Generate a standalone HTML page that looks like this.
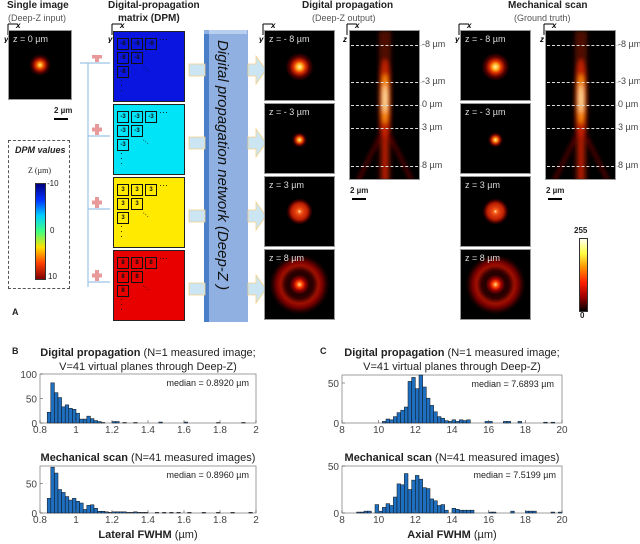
<!DOCTYPE html>
<html><head><meta charset="utf-8">
<style>
body{margin:0;background:#fff;font-family:"Liberation Sans",sans-serif;}
#root{position:relative;width:640px;height:544px;overflow:hidden;background:#fff;}
.abs{position:absolute;}
.t{position:absolute;font-size:11px;color:#222;white-space:nowrap;}
.b{font-weight:bold;}
.img{position:absolute;background:#000;border:1px solid #999;box-sizing:border-box;overflow:hidden;}
.zl{position:absolute;left:4px;top:3px;color:#ddd;font-size:9px;}
.dpm{position:absolute;border:1px solid #222;box-sizing:border-box;}
.cell{position:absolute;width:10px;height:10px;border:1.5px solid #111;font-size:6px;font-weight:bold;text-align:center;line-height:10px;color:#111;}
</style></head><body>
<div id="root">

<div class="t b" style="left:7px;top:0px;font-size:10px">Single image</div>
<div class="t" style="left:8px;top:13px;font-size:9px;color:#555">(Deep-Z input)</div>
<div class="t b" style="left:108px;top:0px;font-size:10px">Digital-propagation</div>
<div class="t b" style="left:118px;top:13px;font-size:10px">matrix (DPM)</div>
<div class="t b" style="left:302px;top:0px;font-size:10px">Digital propagation</div>
<div class="t" style="left:312px;top:13px;font-size:9px;color:#555">(Deep-Z output)</div>
<div class="t b" style="left:508px;top:0px;font-size:10px">Mechanical scan</div>
<div class="t" style="left:514px;top:13px;font-size:9px;color:#555">(Ground truth)</div>

<div id="axglyphs"></div>

<div class="img" style="left:8px;top:30px;width:64px;height:70px;background:radial-gradient(circle at 50% 50%,#fff6a0 0,#ff9a10 2px,#c82000 5px,#400 8px,#000 11px)"><span class="zl">z = 0 µm</span></div>
<div class="t b" style="left:54px;top:106px;font-size:8px">2 µm</div>
<div class="abs" style="left:54px;top:118px;width:14px;height:2px;background:#000"></div>

<div class="abs" style="left:8px;top:140px;width:62px;height:149px;border:1px dashed #555;box-sizing:border-box"></div>
<div class="t b" style="left:15px;top:145px;font-size:9px;font-style:italic">DPM values</div>
<div class="t" style="left:28px;top:166px;font-size:8px;font-family:'Liberation Serif',serif">Z (µm)</div>
<div class="abs" style="left:35px;top:183px;width:9px;height:95px;background:linear-gradient(#00007f,#0030ff,#00d0ff,#40ff80,#ffe000,#ff4000,#7f0000);border:1px solid #333"></div>
<div class="t" style="left:47px;top:179px;font-size:8px">-10</div>
<div class="t" style="left:50px;top:226px;font-size:8px">0</div>
<div class="t" style="left:48px;top:272px;font-size:8px">10</div>
<div class="t b" style="left:12px;top:307px;font-size:9px">A</div>

<svg class="abs" style="left:75px;top:55px" width="40" height="240">
<g stroke="#9ec4e8" stroke-width="1.2" fill="#9ec4e8">
<line x1="5" y1="8" x2="35" y2="8"/><line x1="13" y1="8" x2="13" y2="232"/>
<line x1="13" y1="81" x2="35" y2="81"/><line x1="13" y1="154" x2="35" y2="154"/><line x1="13" y1="227" x2="35" y2="227"/>
</g>
<g fill="#e89a9a"><rect x="20" y="-4" width="4" height="11"/><rect x="17" y="-0.5" width="10" height="4"/>
<rect x="20" y="69" width="4" height="11"/><rect x="17" y="72.5" width="10" height="4"/>
<rect x="20" y="142" width="4" height="11"/><rect x="17" y="145.5" width="10" height="4"/>
<rect x="20" y="215" width="4" height="11"/><rect x="17" y="218.5" width="10" height="4"/></g>
</svg>

<div id="dpms"></div>

<div class="abs" style="left:204px;top:30px;width:44px;height:292px;background:#8fb0e0"></div>
<div class="abs" style="left:204px;top:34px;width:5px;height:288px;background:#4a7ec8"></div>
<div class="abs" style="left:209px;top:30px;width:38px;height:4px;background:#b8cff0"></div>
<div class="t" style="left:214px;top:40px;font-size:15px;font-style:italic;writing-mode:vertical-rl;color:#111">Digital propagation network (Deep-Z )</div>
<svg class="abs" style="left:186px;top:50px" width="80" height="270">
<g fill="#cbe6f2" stroke="#f2d08a" stroke-width="0.8">
<rect x="3" y="14" width="16" height="12"/><rect x="3" y="87" width="16" height="12"/><rect x="3" y="160" width="16" height="12"/><rect x="3" y="233" width="16" height="12"/>
<path d="M62 14h8v-8l10 14-10 14v-8h-8z"/><path d="M62 87h8v-8l10 14-10 14v-8h-8z"/><path d="M62 160h8v-8l10 14-10 14v-8h-8z"/><path d="M62 233h8v-8l10 14-10 14v-8h-8z"/>
</g></svg>

<div id="psf"></div>

<div class="abs" style="left:579px;top:238px;width:7px;height:72px;background:linear-gradient(#fffff0,#ffff40,#ff9000,#ff2000,#a00000,#000);border:1px solid #333"></div>
<div class="t b" style="left:574px;top:226px;font-size:8px">255</div>
<div class="t b" style="left:580px;top:311px;font-size:8px">0</div>

<svg id="hist" class="abs" style="left:0;top:0" width="640" height="544"></svg>
</div>

<script>
// ---- histogram data ----
const latBins0 = 0.84, latStep = 0.02;
const latDigital = [22,82,62,52,33,37,30,28,20,8,8,14,9,5,3,1,0,0,3,3,0,1,0,0,1,0,0,0,0,0,0,2,0,0,0,0,0,0,2,0,0,0,0,0,0,0,0,1,0,0,0,0,0,0,1,0,0,0];
const latMech = [25,78,68,40,35,28,22,25,20,17,6,13,14,8,3,3,2,1,2,2,2,2,1,1,2,1,1,1,0,0,1,0,1,0,1,0,1,0,0,1,0,0,0,1,0,0,0,1,0,0,0,1,0,0,0,0,1,0];
const axStep = 0.2, axDigBin0 = 10.2, axMechBin0 = 8.8;
const axDigital = [2,5,4,8,13,16,20,52,57,43,60,45,31,22,14,8,6,3,2,4,2,4,3,4,0,0,0,0,2,2,0,0,0,2,2,0,0,2,0,0,0,0,0,0,1,0,1,0,0];
const axMech = [1,1,2,2,0,9,2,6,10,8,17,31,30,42,25,35,40,36,27,26,15,13,8,9,3,0,5,4,3,3,3,3,0,0,0,0,1,1,0,0,0,0,2,0,0,0,2,2,2,0,0,0,0,1,0,1];
const latTicks = [0.8,1,1.2,1.4,1.6,1.8,2];
const axTicks = [8,10,12,14,16,18,20];

const NS="http://www.w3.org/2000/svg";
const svg=document.getElementById('hist');
function el(tag,attrs,parent){const e=document.createElementNS(NS,tag);for(const k in attrs)e.setAttribute(k,attrs[k]);(parent||svg).appendChild(e);return e;}
function txt(x,y,s,opt,parent){const t=el('text',Object.assign({x:x,y:y,'font-size':9,'font-family':'Liberation Sans, sans-serif',fill:'#333'},opt||{}),parent);t.textContent=s;return t;}

function hist(name,box,xmin,xmax,ymax,yticks,xticks,bin0,step,vals,median,medX){
  const g=el('g',{});
  
  
  const sx=v=>box.x+(v-xmin)/(xmax-xmin)*box.w;
  const sy=v=>box.y+box.h-Math.min(v,ymax)/ymax*box.h;
  el('rect',{x:box.x,y:box.y,width:box.w,height:box.h,fill:'#fff',stroke:'#888','stroke-width':0.8},g);
  vals.forEach((v,i)=>{if(v<=0)return;const a=bin0+i*step;if(a>=xmax)return;const x0=sx(a),x1=sx(Math.min(xmax,a+step));
    const r=el('rect',{x:x0,y:sy(v),width:x1-x0,height:sy(0)-sy(v),fill:'#1f6fc0',stroke:'#111','stroke-width':0.5},g);
    
    });
  yticks.forEach(t=>{el('line',{x1:box.x,x2:box.x+3,y1:sy(t),y2:sy(t),stroke:'#555','stroke-width':0.6},g);txt(box.x-3,sy(t)+4,String(t),{'text-anchor':'end','font-size':10,fill:'#444'},g);});
  xticks.forEach(t=>{el('line',{x1:sx(t),x2:sx(t),y1:box.y+box.h,y2:box.y+box.h-3,stroke:'#555','stroke-width':0.6},g);txt(sx(t),box.y+box.h+10,String(t),{'text-anchor':'middle','font-size':10,fill:'#444'},g);});
  txt(medX,box.y+12,'median = '+median+' µm',{'text-anchor':'end','font-size':9,fill:'#222'},g);
}
const bt1={x:40,y:374,w:216,h:49}, bb={x:40,y:466,w:216,h:47};
const ct1={x:342,y:375,w:220,h:48}, cb={x:342,y:466,w:220,h:47};
hist('lateral-digital-hist',bt1,0.8,2,100,[0,50,100],latTicks,latBins0,latStep,latDigital,'0.8920',249);
hist('lateral-mech-hist',bb,0.8,2,80,[0,50],latTicks,latBins0,latStep,latMech,'0.8960',249);
hist('axial-digital-hist',ct1,8,20,60,[0,50],axTicks,axDigBin0,axStep,axDigital,'7.6893',554);
hist('axial-mech-hist',cb,8,20,50,[0,50],axTicks,axMechBin0,axStep,axMech,'7.5199',556);

function title(x,y,bold,rest){const t=el('text',{x:x,y:y,'font-size':11,'font-family':'Liberation Sans, sans-serif',fill:'#222','text-anchor':'middle'});
 const a=el('tspan',{'font-weight':'bold'},t);a.textContent=bold;const b=el('tspan',{},t);b.textContent=rest;return t;}
let t;
t=title(148,356,'Digital propagation',' (N=1 measured image;');
txt(148,370,'V=41 virtual planes through Deep-Z)',{'text-anchor':'middle','font-size':11,fill:'#222'});
t=title(148,461,'Mechanical scan',' (N=41 measured images)');
t=title(452,356,'Digital propagation',' (N=1 measured image;');
txt(452,370,'V=41 virtual planes through Deep-Z)',{'text-anchor':'middle','font-size':11,fill:'#222'});
t=title(452,461,'Mechanical scan',' (N=41 measured images)');
t=title(148,538,'Lateral FWHM',' (µm)');
t=title(452,538,'Axial FWHM',' (µm)');
txt(12,354,'B',{'font-weight':'bold','font-size':9,fill:'#222'});
txt(320,354,'C',{'font-weight':'bold','font-size':9,fill:'#222'});

// axis glyphs
const ag=document.getElementById('axglyphs');
[[4,'y'],[108,'y'],[259,'y'],[343,'z'],[455,'y'],[540,'z']].forEach(([x,l])=>{
 const s=document.createElement('div');s.className='abs';s.style.cssText=`left:${x}px;top:21px;`;
 s.innerHTML=`<svg width="20" height="22"><path d="M4 3H13M4 3V14" stroke="#000" stroke-width="1" fill="none"/><text x="12" y="7" font-size="8" font-weight="bold" font-style="italic" font-family="Liberation Sans">x</text><text x="0" y="21" font-size="8" font-weight="bold" font-style="italic" font-family="Liberation Sans">${l}</text></svg>`;
 ag.appendChild(s);});

// ---- DPM blocks ----
const dpmVals=['-8','-3','3','8'];
const dpmColors=['#0a16e0','#00e4f8','#ffea00','#e80000'];
const dpmTops=[31,104,177,250];
const dc=document.getElementById('dpms');
dpmVals.forEach((v,i)=>{
 const d=document.createElement('div');d.className='dpm';
 d.style.cssText=`left:113px;top:${dpmTops[i]}px;width:72px;height:71px;background:${dpmColors[i]}`;
 
 
 [[0,0],[1,0],[2,0],[0,1],[1,1],[0,2]].forEach(([c,r])=>{const s=document.createElement('div');s.className='cell';s.style.left=(3+c*14)+'px';s.style.top=(6+r*14)+'px';s.textContent=v;d.appendChild(s);});
 const dots=document.createElement('div');dots.style.cssText='position:absolute;left:45px;top:2px;font-size:9px;color:#111';dots.textContent='···';d.appendChild(dots);
 const vd=document.createElement('div');vd.style.cssText='position:absolute;left:6px;top:46px;font-size:9px;line-height:5px;color:#111';vd.innerHTML='·<br>·<br>·';d.appendChild(vd);
 const dd=document.createElement('div');dd.style.cssText='position:absolute;left:28px;top:32px;font-size:8px;color:#111;transform:rotate(40deg)';dd.textContent='···';d.appendChild(dd);
 dc.appendChild(d);
});

// ---- PSF images ----
const psf=document.getElementById('psf');
const labels=['z = - 8 µm','z = - 3 µm','z =  3 µm','z =  8 µm'];
const imgTops=[30,103,176,249];
const bgs=[
 'radial-gradient(circle at 50% 52%,#fff8b0 0,#ffb020 3px,#e03000 6px,#500 10px,#000 14px)',
 'radial-gradient(circle at 50% 52%,#fff0a0 0,#ff9010 2px,#c02000 4px,#300 6px,#000 8px)',
 'radial-gradient(circle at 50% 50%,#fff 0,#ff7020 1.5px,#e04010 4px,#c02000 8px,#400 11px,#000 13px)',
 'radial-gradient(circle at 50% 50%,#ffe080 0,#ff4000 3px,#900 6px,#200 10px,#300 14px,#a01000 19px,#700 23px,#200 27px,#000 30px)'];
[264,460].forEach((x,k)=>{
 imgTops.forEach((y,i)=>{const d=document.createElement('div');d.className='img';
  d.style.cssText=`left:${x}px;top:${y}px;width:71px;height:71px;background:${bgs[i]}`;
  
  
  d.innerHTML=`<span class="zl">${labels[i]}</span>`;psf.appendChild(d);});
});
const zLabels=['-8 µm','-3 µm','0 µm','3 µm','8 µm'];
const zY=[45,82,105,128,166];
[349,545].forEach((x,k)=>{
 const d=document.createElement('div');d.className='img';
 d.style.cssText=`left:${x}px;top:30px;width:71px;height:150px`;
 
 
 d.innerHTML=`<svg width="71" height="150"><defs><filter id="f${k}"><feGaussianBlur stdDeviation="2"/></filter></defs>
 <g filter="url(#f${k})"><rect x="29" y="0" width="12" height="150" fill="#500800"/>
 <path d="M35 95 L8 150 M35 95 L62 150" stroke="#600" stroke-width="3"/>
 <ellipse cx="35" cy="68" rx="6" ry="40" fill="#c02000"/><ellipse cx="35" cy="68" rx="3.5" ry="25" fill="#ff9010"/><ellipse cx="35" cy="68" rx="1.6" ry="14" fill="#fff0b0"/>
 <rect x="33.5" y="100" width="3" height="50" fill="#d02000"/></g></svg>`;
 psf.appendChild(d);
 zY.forEach((y,i)=>{const l=document.createElement('div');l.className='abs';l.style.cssText=`left:${x+2}px;top:${y}px;width:${72}px;border-top:1px dashed #ddd`;psf.appendChild(l);
  const t=document.createElement('div');t.className='t';t.style.cssText=`left:${x+73}px;top:${y-6}px;font-size:9px;color:#444`;t.textContent=zLabels[i];psf.appendChild(t);});
 const sb=document.createElement('div');sb.className='t b';sb.style.cssText=`left:${x+1}px;top:186px;font-size:8px`;sb.textContent='2 µm';psf.appendChild(sb);
 const sl=document.createElement('div');sl.className='abs';sl.style.cssText=`left:${x+3}px;top:198px;width:14px;height:1.5px;background:#000`;psf.appendChild(sl);
});
</script>
</body></html>
